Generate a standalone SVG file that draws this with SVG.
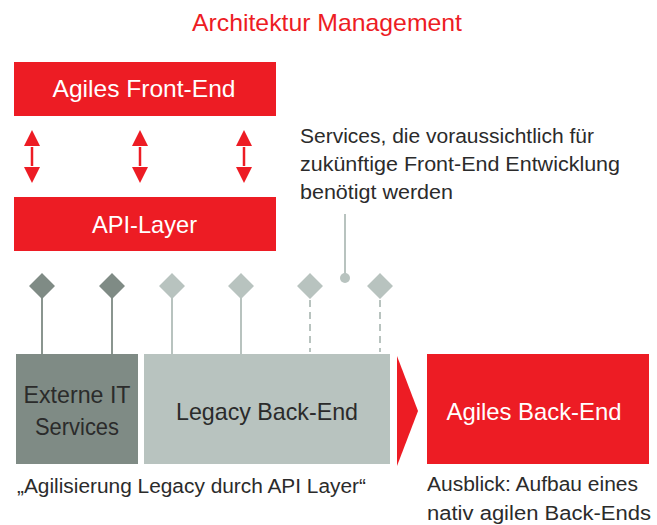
<svg xmlns="http://www.w3.org/2000/svg" width="657" height="525" viewBox="0 0 657 525">
  <style>
    .t { font-family: "Liberation Sans", Arial, sans-serif; }
    .red { fill: #ED1C24; }
    .dark { fill: #7F8B85; }
    .light { fill: #B8C3BF; }
    .wt { fill: #ffffff; font-size: 24px; text-anchor: middle; }
    .bt { fill: #2b2b2b; font-size: 24px; text-anchor: middle; }
    .note { fill: #2b2b2b; font-size: 20px; }
    .stemD { stroke: #8A958F; stroke-width: 2; fill: none; }
    .stemL { stroke: #B8C3BF; stroke-width: 2; fill: none; }
    .dash { stroke-dasharray: 7 5; }
    .vArrow { stroke: #ED1C24; stroke-width: 2.5; fill: none; }
  </style>

  <text class="t" x="327" y="31" font-size="24" fill="#ED1C24" text-anchor="middle" textLength="270" lengthAdjust="spacingAndGlyphs">Architektur Management</text>

  <g id="frontend">
    <rect class="red" x="14" y="62" width="262" height="54"/>
    <text class="t wt" x="144" y="97" textLength="183" lengthAdjust="spacingAndGlyphs">Agiles Front-End</text>
  </g>

  <g id="apilayer">
    <rect class="red" x="14" y="197" width="262" height="54"/>
    <text class="t wt" x="144.5" y="233" textLength="105" lengthAdjust="spacingAndGlyphs">API-Layer</text>
  </g>

  <g id="extern">
    <rect class="dark" x="16" y="354" width="122" height="110"/>
    <text class="t bt" x="77" y="403" textLength="107" lengthAdjust="spacingAndGlyphs">Externe IT</text>
    <text class="t bt" x="77" y="435" textLength="84" lengthAdjust="spacingAndGlyphs">Services</text>
  </g>

  <g id="legacy">
    <rect class="light" x="144" y="354" width="246" height="110"/>
    <text class="t bt" x="267" y="420" textLength="182" lengthAdjust="spacingAndGlyphs">Legacy Back-End</text>
  </g>

  <g id="agilesbackend">
    <rect class="red" x="427" y="354" width="222" height="110"/>
    <text class="t wt" x="534" y="420" textLength="175" lengthAdjust="spacingAndGlyphs">Agiles Back-End</text>
  </g>

  <g id="connectors">
    <!-- front-end / API double arrows -->
    <path class="vArrow" d="M32,147 V166"/>
    <path d="M32,130 L24,146 H40 Z M32,183 L24,167 H40 Z" class="red"/>
    <path class="vArrow" d="M140,147 V166"/>
    <path d="M140,130 L132,146 H148 Z M140,183 L132,167 H148 Z" class="red"/>
    <path class="vArrow" d="M244,147 V166"/>
    <path d="M244,130 L236,146 H252 Z M244,183 L236,167 H252 Z" class="red"/>

    <!-- service stems -->
    <path class="stemD" d="M42,296 V354 M112,296 V354"/>
    <path class="stemL" d="M172,296 V354 M241,296 V354"/>
    <path class="stemL dash" d="M310,300 V352 M380,300 V352"/>

    <!-- service diamonds -->
    <path class="dark" d="M42,273 L55,286 L42,299 L29,286 Z M112,273 L125,286 L112,299 L99,286 Z"/>
    <path class="light" d="M172,273 L185,286 L172,299 L159,286 Z M241,273 L254,286 L241,299 L228,286 Z M310,273 L323,286 L310,299 L297,286 Z M380,273 L393,286 L380,299 L367,286 Z"/>

    <!-- pointer to annotation -->
    <path class="stemL" d="M345,214 V276"/>
    <circle class="light" cx="345" cy="278" r="5"/>

    <!-- transition chevron -->
    <path class="red" d="M397,356 L418,411 L397,466 Z"/>
  </g>

  <text class="t note" x="300" y="143" textLength="294" lengthAdjust="spacingAndGlyphs">Services, die voraussichtlich für</text>
  <text class="t note" x="300" y="171" textLength="320" lengthAdjust="spacingAndGlyphs">zukünftige Front-End Entwicklung</text>
  <text class="t note" x="300" y="199" textLength="153" lengthAdjust="spacingAndGlyphs">benötigt werden</text>

  <text class="t note" x="17" y="493" textLength="349" lengthAdjust="spacingAndGlyphs">„Agilisierung Legacy durch API Layer“</text>
  <text class="t note" x="427" y="491" textLength="211" lengthAdjust="spacingAndGlyphs">Ausblick: Aufbau eines</text>
  <text class="t note" x="427" y="520" textLength="224" lengthAdjust="spacingAndGlyphs">nativ agilen Back-Ends</text>
</svg>
